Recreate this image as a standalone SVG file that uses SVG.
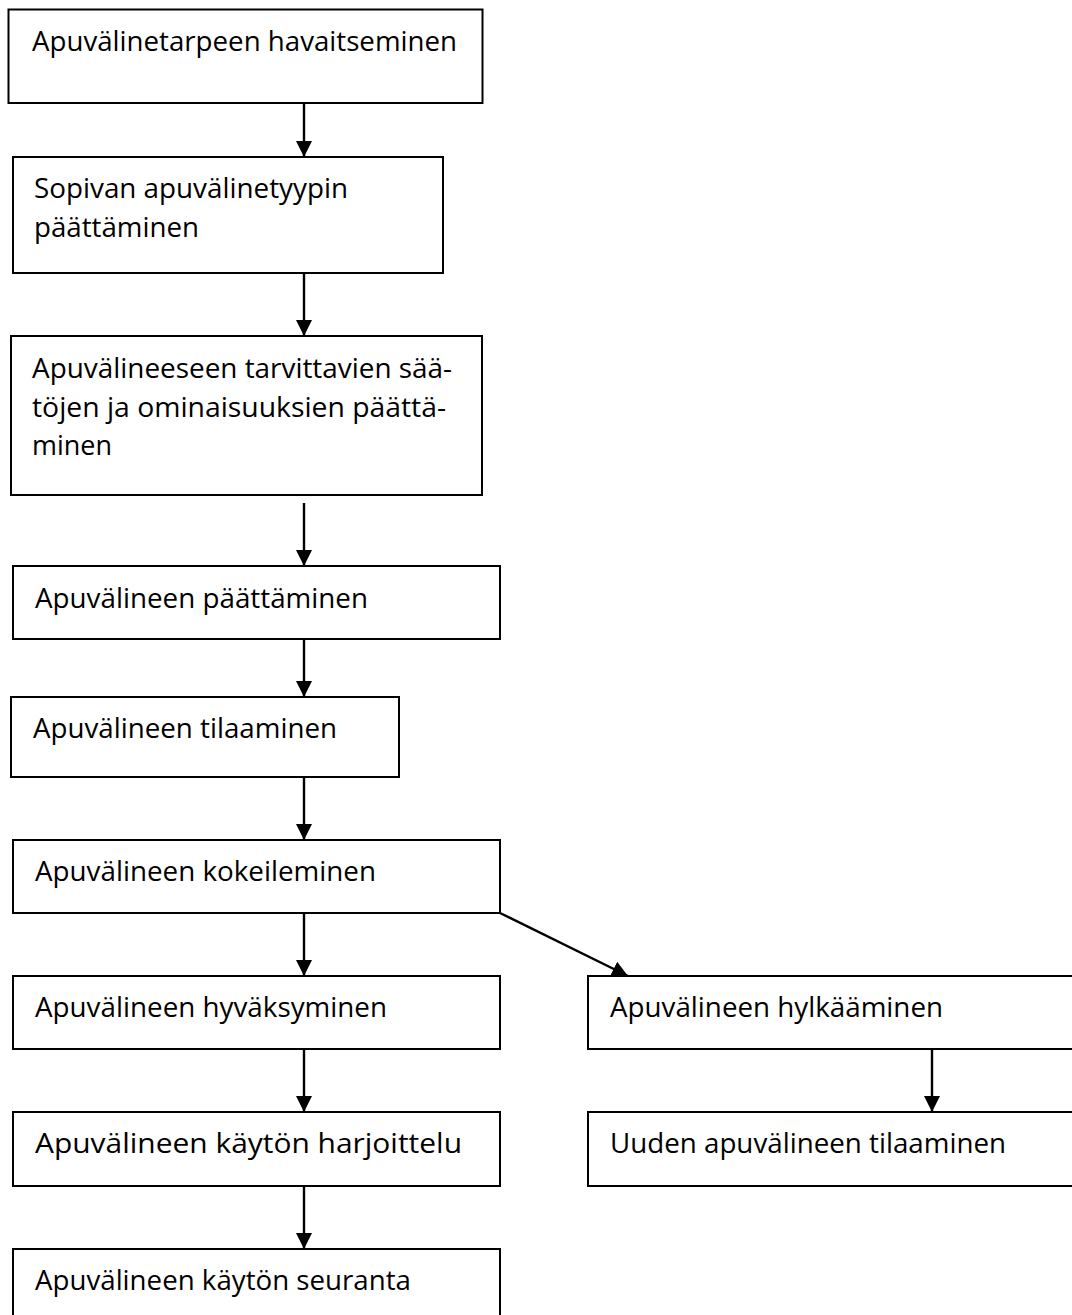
<svg xmlns="http://www.w3.org/2000/svg" width="1072" height="1315" viewBox="0 0 1072 1315">
<style>
.box{fill:#fff;stroke:#000;stroke-width:2}
.lbl{font-family:"Open Sans","Noto Sans","Liberation Sans",sans-serif;font-size:28px;fill:#000}
.con{stroke:#000;stroke-width:2.4;fill:none;marker-end:url(#ah)}
</style>
<defs>
<marker id="ah" markerUnits="userSpaceOnUse" markerWidth="17" markerHeight="17" refX="16" refY="8.5" orient="auto" viewBox="0 0 17 17">
<path d="M0,0.5 L16,8.5 L0,16.5 Z" fill="#000"/>
</marker>
</defs>
<rect width="1072" height="1315" fill="#fff"/>
<g id="connectors">
<line class="con" x1="304" y1="103" x2="304" y2="157"/>
<line class="con" x1="304" y1="273" x2="304" y2="336"/>
<line class="con" x1="304" y1="503" x2="304" y2="566"/>
<line class="con" x1="304" y1="639" x2="304" y2="697"/>
<line class="con" x1="304" y1="777" x2="304" y2="840"/>
<line class="con" x1="304" y1="913" x2="304" y2="976"/>
<line class="con" x1="500" y1="913" x2="628" y2="976"/>
<line class="con" x1="304" y1="1049" x2="304" y2="1112"/>
<line class="con" x1="932" y1="1049" x2="932" y2="1112"/>
<line class="con" x1="304" y1="1186" x2="304" y2="1249"/>
</g>
<g id="n1"><rect class="box" x="8.5" y="9.5" width="474" height="93.5"/><text class="lbl" x="32" y="51" textLength="425" lengthAdjust="spacingAndGlyphs">Apuvälinetarpeen havaitseminen</text></g>
<g id="n2"><rect class="box" x="13" y="157" width="430" height="116"/><text class="lbl" x="34" y="198" textLength="314" lengthAdjust="spacingAndGlyphs">Sopivan apuvälinetyypin</text><text class="lbl" x="34" y="237" textLength="165" lengthAdjust="spacingAndGlyphs">päättäminen</text></g>
<g id="n3"><rect class="box" x="11" y="336" width="471" height="159"/><text class="lbl" x="32" y="378" textLength="420" lengthAdjust="spacingAndGlyphs">Apuvälineeseen tarvittavien sää-</text><text class="lbl" x="32" y="416.5" textLength="414" lengthAdjust="spacingAndGlyphs">töjen ja ominaisuuksien päättä-</text><text class="lbl" x="32" y="455" textLength="80" lengthAdjust="spacingAndGlyphs">minen</text></g>
<g id="n4"><rect class="box" x="13" y="566" width="487" height="73"/><text class="lbl" x="35" y="607.5" textLength="333" lengthAdjust="spacingAndGlyphs">Apuvälineen päättäminen</text></g>
<g id="n5"><rect class="box" x="11" y="697" width="388" height="80"/><text class="lbl" x="33" y="738" textLength="304" lengthAdjust="spacingAndGlyphs">Apuvälineen tilaaminen</text></g>
<g id="n6"><rect class="box" x="13" y="840" width="487" height="73"/><text class="lbl" x="35" y="881" textLength="341" lengthAdjust="spacingAndGlyphs">Apuvälineen kokeileminen</text></g>
<g id="n7"><rect class="box" x="13" y="976" width="487" height="73"/><text class="lbl" x="35" y="1017" textLength="352" lengthAdjust="spacingAndGlyphs">Apuvälineen hyväksyminen</text></g>
<g id="n8"><rect class="box" x="588" y="976" width="500" height="73"/><text class="lbl" x="610" y="1017" textLength="333" lengthAdjust="spacingAndGlyphs">Apuvälineen hylkääminen</text></g>
<g id="n9"><rect class="box" x="13" y="1112" width="487" height="74"/><text class="lbl" x="35" y="1153" textLength="427" lengthAdjust="spacingAndGlyphs">Apuvälineen käytön harjoittelu</text></g>
<g id="n10"><rect class="box" x="588" y="1112" width="500" height="74"/><text class="lbl" x="610" y="1153" textLength="396" lengthAdjust="spacingAndGlyphs">Uuden apuvälineen tilaaminen</text></g>
<g id="n11"><rect class="box" x="13" y="1249" width="487" height="80"/><text class="lbl" x="35" y="1290" textLength="376" lengthAdjust="spacingAndGlyphs">Apuvälineen käytön seuranta</text></g>
</svg>
